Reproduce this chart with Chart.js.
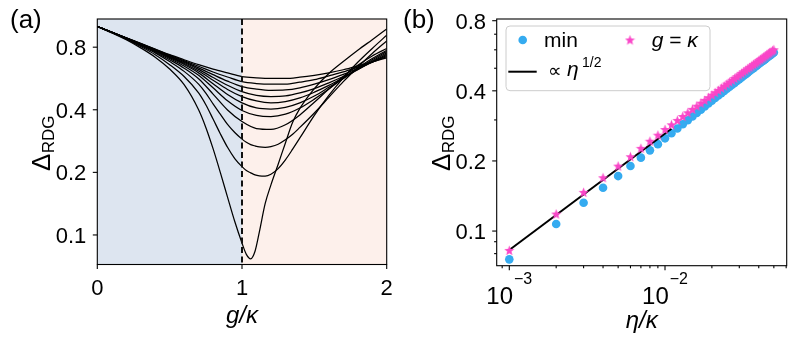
<!DOCTYPE html>
<html><head><meta charset="utf-8">
<script src="https://cdn.jsdelivr.net/npm/chart.js@4.4.1/dist/chart.umd.min.js"></script>
<style>
html,body{margin:0;padding:0;background:#fff;}
#wrap{position:relative;width:797px;height:350px;overflow:hidden;background:#fff;}
canvas{position:absolute;top:0;}
#ca{left:0;} #cb{left:398px;}
</style></head><body>
<div id="wrap"><canvas id="ca" width="398" height="350"></canvas><canvas id="cb" width="399" height="350"></canvas></div>
<script>
// ---------- data: panel (a) ----------
const gFine = [0,0.1,0.2,0.3,0.4,0.5,0.6,0.7,0.75,0.8,0.85,0.9,0.95,1.0,1.03,1.06,1.09,1.12,1.16,1.2,1.25,1.3,1.35,1.4,1.5,1.6,1.7,1.8,1.9,2.0];
const gCoarse = [0,0.1,0.2,0.3,0.4,0.5,0.6,0.7,0.8,0.9,1.0,1.1,1.2,1.3,1.4,1.5,1.6,1.7,1.8,1.9,2.0];
const curve0 = [1.006,0.938,0.869,0.794,0.716,0.628,0.528,0.400,0.329,0.260,0.200,0.152,0.116,0.0914,0.0807,0.0768,0.0835,0.1035,0.1414,0.1741,0.219,0.277,0.348,0.406,0.506,0.598,0.682,0.773,0.869,0.978];
const curve1 = [1.006,0.942,0.875,0.806,0.736,0.659,0.578,0.482,0.423,0.361,0.307,0.264,0.233,0.213,0.204,0.199,0.1945,0.1925,0.1919,0.1959,0.2085,0.2297,0.2585,0.2928,0.376,0.469,0.570,0.677,0.789,0.913];
const curve2 = [1.006,0.943,0.879,0.814,0.751,0.682,0.612,0.531,0.481,0.427,0.381,0.340,0.311,0.289,0.279,0.272,0.268,0.265,0.264,0.266,0.273,0.287,0.305,0.329,0.386,0.459,0.546,0.641,0.746,0.857];
const curve3 = [1.006,0.943,0.882,0.820,0.759,0.696,0.634,0.564,0.476,0.399,0.351,0.325,0.322,0.339,0.378,0.435,0.503,0.578,0.654,0.726,0.789];
const curve4 = [1.006,0.944,0.883,0.823,0.765,0.706,0.649,0.586,0.510,0.442,0.397,0.376,0.371,0.381,0.408,0.450,0.503,0.566,0.636,0.706,0.773];
const curve5 = [1.006,0.944,0.884,0.826,0.770,0.713,0.660,0.602,0.534,0.474,0.432,0.408,0.403,0.411,0.432,0.466,0.513,0.566,0.628,0.696,0.762];
const curve6 = [1.006,0.944,0.885,0.828,0.773,0.718,0.668,0.615,0.555,0.501,0.463,0.441,0.432,0.438,0.456,0.486,0.524,0.570,0.623,0.687,0.752];
const curve7 = [1.006,0.944,0.886,0.829,0.775,0.722,0.675,0.626,0.572,0.525,0.489,0.469,0.463,0.466,0.482,0.506,0.539,0.578,0.626,0.680,0.741];
const curve8 = [1.006,0.944,0.886,0.831,0.778,0.727,0.682,0.636,0.590,0.549,0.517,0.503,0.496,0.498,0.510,0.531,0.558,0.592,0.632,0.677,0.731];
const curve9 = [1.006,0.945,0.887,0.832,0.781,0.732,0.689,0.648,0.608,0.575,0.546,0.535,0.531,0.531,0.543,0.558,0.582,0.608,0.641,0.677,0.721];
const curve10 = [1.006,0.945,0.888,0.834,0.784,0.736,0.696,0.659,0.628,0.602,0.578,0.570,0.566,0.566,0.574,0.586,0.602,0.623,0.650,0.680,0.711];
const xTicksA = [0,1,2];
const yTicksA = [0.1,0.2,0.4,0.8];

// ---------- data: panel (b) ----------
const etaValues = [0.001,0.002,0.003,0.004,0.005,0.006,0.007,0.008,0.009,0.010,
  0.011,0.012,0.013,0.014,0.015,0.016,0.017,0.018,0.019,0.020,
  0.021,0.022,0.023,0.024,0.025,0.026,0.027,0.028,0.029,0.030,
  0.031,0.032,0.033,0.034,0.035,0.036,0.037,0.038,0.039,0.040,
  0.041,0.042,0.043,0.044,0.045,0.046,0.047,0.048,0.049,0.050];
const deltaMin = [0.0756,0.1072,0.1322,0.1535,0.1722,0.1902,0.2066,0.2221,0.2361,0.2501,
  0.2631,0.2755,0.2874,0.2990,0.3104,0.3214,0.3321,0.3426,0.3530,0.3631,
  0.3727,0.3817,0.3905,0.3995,0.4080,0.4164,0.4246,0.4327,0.4411,0.4490,
  0.4568,0.4644,0.4714,0.4789,0.4862,0.4935,0.5007,0.5072,0.5142,0.5213,
  0.5276,0.5344,0.5406,0.5473,0.5534,0.5600,0.5658,0.5723,0.5781,0.5845];
const deltaGK = [0.0826,0.1183,0.1466,0.1694,0.1901,0.2085,0.2265,0.2430,0.2580,0.2730,
  0.2860,0.2985,0.3104,0.3219,0.3330,0.3437,0.3541,0.3641,0.3739,0.3834,
  0.3927,0.4018,0.4106,0.4192,0.4277,0.4360,0.4441,0.4521,0.4600,0.4677,
  0.4753,0.4827,0.4900,0.4973,0.5044,0.5114,0.5183,0.5251,0.5318,0.5385,
  0.5450,0.5515,0.5579,0.5642,0.5705,0.5767,0.5827,0.5888,0.5948,0.6007];
const fitEta = [0.001, 0.011];
const fitDelta = [0.0829, 0.2749];
const yTicksB = [0.1,0.2,0.4,0.8];
const yMinorB = [0.08,0.09,0.3,0.5,0.6,0.7];
const xTicksB = [0.001,0.01];
const xTickExp = ['\u22123','\u22122'];
const xMinorB = [0.0009,0.002,0.003,0.004,0.005,0.006,0.007,0.008,0.009,0.02,0.03,0.04,0.05,0.06];

// ---------- styling ----------
const FONT = '"Liberation Sans", Arial, sans-serif';
Chart.defaults.font.family = FONT;
Chart.defaults.color = '#000';
const BLUE_BG = '#dde5f0';
const PEACH_BG = '#fdf0eb';
const DOT_BLUE = '#35abf0';
const STAR_PINK = '#fa46c8';

function makeStar(size, color) {
  const c = document.createElement('canvas');
  c.width = size; c.height = size;
  const g = c.getContext('2d');
  const cx = size/2, cy = size/2 + 0.4, R = size/2 - 0.2, r = R*0.42;
  g.beginPath();
  for (let i = 0; i < 10; i++) {
    const ang = -Math.PI/2 + i*Math.PI/5;
    const rad = (i % 2 === 0) ? R : r;
    const px = cx + rad*Math.cos(ang), py = cy + rad*Math.sin(ang);
    if (i) g.lineTo(px, py); else g.moveTo(px, py);
  }
  g.closePath(); g.fillStyle = color; g.fill();
  return c;
}
const starImg = makeStar(11, STAR_PINK);

function setFont(ctx, size, italic, family) {
  ctx.font = (italic ? 'italic ' : '') + size + 'px ' + (family || FONT);
}
function drawText(ctx, s, x, y, size, italic, align, family) {
  setFont(ctx, size, italic, family);
  ctx.textAlign = align || 'left';
  ctx.textBaseline = 'alphabetic';
  ctx.fillStyle = '#000';
  ctx.fillText(s, x, y);
  return ctx.measureText(s).width;
}
function tickMark(ctx, x1, y1, x2, y2) {
  ctx.beginPath(); ctx.moveTo(x1, y1); ctx.lineTo(x2, y2); ctx.stroke();
}
function drawFrame(ctx, a) {
  ctx.save();
  ctx.strokeStyle = '#000'; ctx.lineWidth = 1.1;
  ctx.strokeRect(a.left, a.top, a.right - a.left, a.bottom - a.top);
  ctx.restore();
}
function drawDeltaTitle(ctx, bx, cy) {
  ctx.save();
  ctx.translate(bx, cy);
  ctx.rotate(-Math.PI/2);
  setFont(ctx, 26, false);
  const w1 = ctx.measureText('\u0394').width;
  setFont(ctx, 17, false);
  const w2 = ctx.measureText('RDG').width;
  const u0 = -(w1 + w2)/2;
  drawText(ctx, '\u0394', u0, 0, 26, false, 'left');
  drawText(ctx, 'RDG', u0 + w1 + 0.5, 4, 17, false, 'left');
  ctx.restore();
}

// ---------- panel (a) ----------
const curveSets = [
  [gFine, curve0], [gFine, curve1], [gFine, curve2], [gCoarse, curve3], [gCoarse, curve4],
  [gCoarse, curve5], [gCoarse, curve6], [gCoarse, curve7], [gCoarse, curve8], [gCoarse, curve9], [gCoarse, curve10]
];

const panelAPlugin = {
  id: 'panelA',
  beforeDatasetsDraw(chart) {
    const {ctx, chartArea: a, scales: {x}} = chart;
    const x0 = x.getPixelForValue(xTicksA[0]), x1 = x.getPixelForValue(xTicksA[1]), x2 = x.getPixelForValue(xTicksA[2]);
    ctx.save();
    ctx.fillStyle = BLUE_BG; ctx.fillRect(x0, a.top, x1 - x0, a.bottom - a.top);
    ctx.fillStyle = PEACH_BG; ctx.fillRect(x1, a.top, x2 - x1, a.bottom - a.top);
    ctx.restore();
  },
  afterDatasetsDraw(chart) {
    const {ctx, chartArea: a, scales: {x, y}} = chart;
    ctx.save();
    const xd = x.getPixelForValue(1);
    ctx.strokeStyle = '#111'; ctx.lineWidth = 2; ctx.setLineDash([6, 3.5]);
    tickMark(ctx, xd, a.top, xd, a.bottom);
    ctx.setLineDash([]);
    ctx.restore();
    drawFrame(ctx, a);
    ctx.save();
    ctx.strokeStyle = '#000'; ctx.lineWidth = 1.1;
    yTicksA.forEach(v => {
      const py = y.getPixelForValue(v);
      tickMark(ctx, a.left - 4.5, py, a.left, py);
      drawText(ctx, v.toFixed(1), a.left - 11, py + 7.9, 22, false, 'right');
    });
    xTicksA.forEach(v => {
      const px = x.getPixelForValue(v);
      tickMark(ctx, px, a.bottom, px, a.bottom + 4.5);
      drawText(ctx, String(v), px, 294.5, 22, false, 'center');
    });
    drawText(ctx, 'g/\u03ba', (a.left + a.right)/2, 322.5, 24, true, 'center');
    drawDeltaTitle(ctx, 50, 143.5);
    drawText(ctx, '(a)', 10, 28, 26, false, 'left');
    ctx.restore();
  }
};

new Chart(document.getElementById('ca'), {
  type: 'line',
  data: {
    datasets: curveSets.map(([gs, ds], k) => ({
      label: 'curve ' + k,
      data: gs.map((g, i) => ({x: g, y: ds[i]})),
      borderColor: '#000', borderWidth: 1.25, pointRadius: 0, fill: false,
      cubicInterpolationMode: 'monotone'
    }))
  },
  options: {
    responsive: false, animation: false, events: [],
    layout: {padding: {left: 0, right: 11.3, top: 19, bottom: 0}},
    plugins: {legend: {display: false}, tooltip: {enabled: false}},
    scales: {
      x: {type: 'linear', min: 0, max: 2, bounds: 'data',
          ticks: {display: false}, grid: {display: false, drawTicks: false}, border: {display: false},
          afterFit(s) { s.height = 85.5; }},
      y: {type: 'logarithmic', min: 0.0721, max: 1.093, bounds: 'data',
          ticks: {display: false}, grid: {display: false, drawTicks: false}, border: {display: false},
          afterFit(s) { s.width = 97.3; }}
    }
  },
  plugins: [panelAPlugin]
});

// ---------- panel (b) ----------
const panelBPlugin = {
  id: 'panelB',
  afterDatasetsDraw(chart) {
    const {ctx, chartArea: a, scales: {x, y}} = chart;
    drawFrame(ctx, a);
    ctx.save();
    ctx.strokeStyle = '#000'; ctx.lineWidth = 1.1;
    yTicksB.forEach(v => {
      const py = y.getPixelForValue(v);
      tickMark(ctx, a.left - 4.5, py, a.left, py);
      drawText(ctx, v.toFixed(1), a.left - 10.7, py + 7.9, 22, false, 'right');
    });
    yMinorB.forEach(v => {
      const py = y.getPixelForValue(v);
      tickMark(ctx, a.left - 2.6, py, a.left, py);
    });
    xTicksB.forEach((v, i) => {
      const px = x.getPixelForValue(v);
      tickMark(ctx, px, a.bottom, px, a.bottom + 4.5);
      setFont(ctx, 24, false); const w1 = ctx.measureText('10').width;
      setFont(ctx, 16, false); const w2 = ctx.measureText(xTickExp[i]).width;
      const x0 = px - (w1 + 1 + w2)/2;
      drawText(ctx, '10', x0, 304, 24, false, 'left');
      drawText(ctx, xTickExp[i], x0 + w1 + 1, 283.5, 16, false, 'left');
    });
    xMinorB.forEach(v => {
      const px = x.getPixelForValue(v);
      tickMark(ctx, px, a.bottom, px, a.bottom + 2.6);
    });
    drawText(ctx, '\u03b7/\u03ba', (a.left + a.right)/2, 328, 24, true, 'center');
    drawDeltaTitle(ctx, 52, 143.5);
    drawText(ctx, '(b)', 5, 28, 26, false, 'left');

    // legend
    const lx = 108, ly = 26, lw = 204, lh = 64.7;
    ctx.beginPath();
    if (ctx.roundRect) ctx.roundRect(lx, ly, lw, lh, 4); else ctx.rect(lx, ly, lw, lh);
    ctx.fillStyle = 'rgba(255,255,255,0.8)'; ctx.fill();
    ctx.strokeStyle = '#cccccc'; ctx.lineWidth = 1; ctx.stroke();
    ctx.beginPath(); ctx.arc(124.7, 40, 4.3, 0, Math.PI*2); ctx.fillStyle = DOT_BLUE; ctx.fill();
    drawText(ctx, 'min', 146, 47, 21, false, 'left');
    ctx.drawImage(starImg, 232 - starImg.width/2, 40 - starImg.height/2);
    let tx = 253.7;
    tx += drawText(ctx, 'g', tx, 47, 21, true, 'left');
    tx += drawText(ctx, ' = ', tx, 47, 21, false, 'left');
    drawText(ctx, '\u03ba', tx, 47, 21, true, 'left');
    ctx.strokeStyle = '#000'; ctx.lineWidth = 2;
    tickMark(ctx, 110.3, 71.7, 138.7, 71.7);
    drawText(ctx, '\u221d', 150, 77, 19, false, 'left', '"DejaVu Sans", sans-serif');
    drawText(ctx, '\u03b7', 169, 76, 21, true, 'left');
    drawText(ctx, '1/2', 184, 67, 14, false, 'left');
    ctx.restore();
  }
};

new Chart(document.getElementById('cb'), {
  type: 'scatter',
  data: {
    datasets: [
      {label: 'g = \u03ba', data: etaValues.map((e, i) => ({x: e, y: deltaGK[i]})),
       pointStyle: starImg, pointRadius: 5, order: 1},
      {label: '\u221d \u03b7^1/2', data: fitEta.map((e, i) => ({x: e, y: fitDelta[i]})),
       showLine: true, borderColor: '#000', borderWidth: 2, pointRadius: 0, order: 2},
      {label: 'min', data: etaValues.map((e, i) => ({x: e, y: deltaMin[i]})),
       backgroundColor: DOT_BLUE, borderWidth: 0, pointRadius: 4.3, order: 3}
    ]
  },
  options: {
    responsive: false, animation: false, events: [],
    layout: {padding: {left: 0, right: 10.3, top: 19, bottom: 0}},
    plugins: {legend: {display: false}, tooltip: {enabled: false}},
    scales: {
      x: {type: 'logarithmic', min: 0.000830, max: 0.06047, bounds: 'data',
          ticks: {display: false}, grid: {display: false, drawTicks: false}, border: {display: false},
          afterFit(s) { s.height = 84.3; }},
      y: {type: 'logarithmic', min: 0.0710, max: 0.8136, bounds: 'data',
          ticks: {display: false}, grid: {display: false, drawTicks: false}, border: {display: false},
          afterFit(s) { s.width = 98.7; }}
    }
  },
  plugins: [panelBPlugin]
});
</script>
</body></html>
